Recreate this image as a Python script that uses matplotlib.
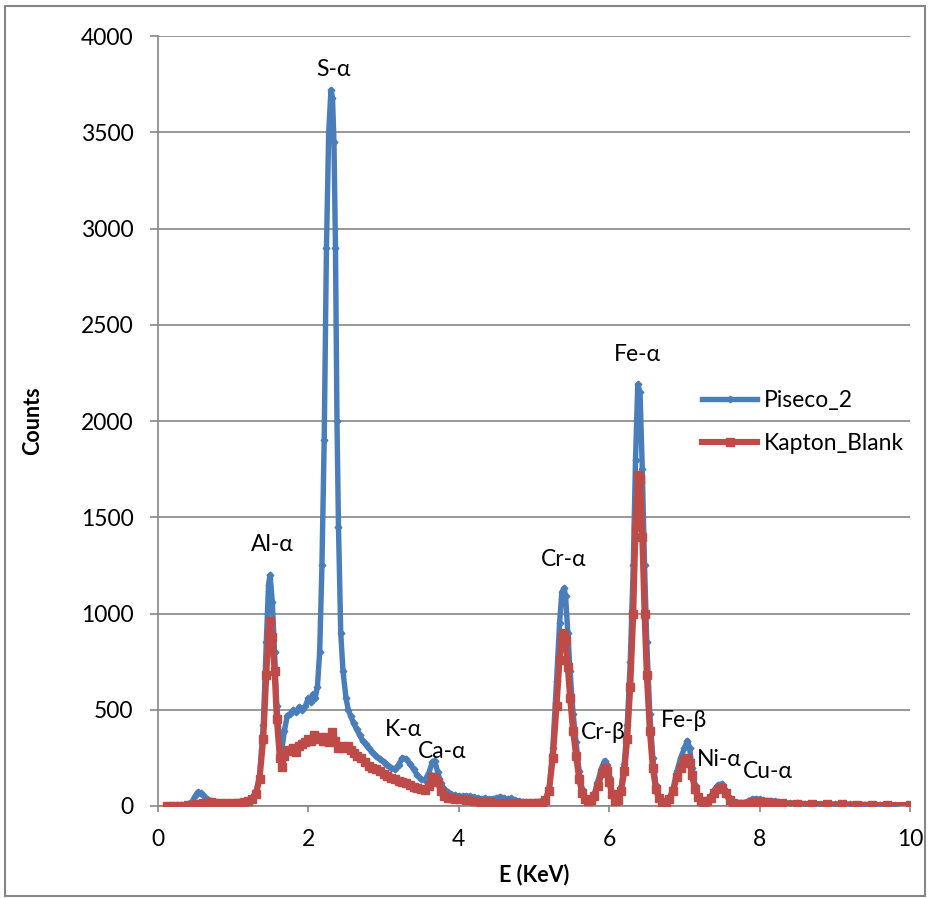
import matplotlib
matplotlib.use("Agg")
import matplotlib.pyplot as plt
from matplotlib.patches import Rectangle

# ---- spectrum data: energy (keV) and counts ----
piseco_e = [0.12, 0.20, 0.25, 0.30, 0.35, 0.40, 0.45, 0.50, 0.53, 0.57, 0.60, 0.65, 0.70,
            0.75, 0.80, 0.85, 0.90, 0.95, 1.00, 1.05, 1.10, 1.15, 1.20, 1.25, 1.30, 1.35,
            1.40, 1.44, 1.47, 1.49, 1.52, 1.55, 1.58, 1.62, 1.65, 1.68, 1.72, 1.76, 1.80,
            1.84, 1.88, 1.92, 1.96, 2.00, 2.03, 2.06, 2.09, 2.12, 2.15, 2.18, 2.21, 2.24,
            2.27, 2.30, 2.32, 2.34, 2.36, 2.38, 2.40, 2.43, 2.46, 2.50, 2.53, 2.56, 2.60,
            2.64, 2.68, 2.72, 2.76, 2.80, 2.85, 2.90, 2.95, 3.00, 3.05, 3.10, 3.15, 3.20,
            3.25, 3.30, 3.35, 3.40, 3.45, 3.50, 3.55, 3.60, 3.65, 3.68, 3.72, 3.76, 3.80,
            3.85, 3.90, 3.95, 4.00, 4.05, 4.10, 4.15, 4.20, 4.25, 4.30, 4.35, 4.40, 4.45,
            4.50, 4.55, 4.60, 4.65, 4.70, 4.75, 4.80, 4.85, 4.90, 4.95, 5.00, 5.05, 5.10,
            5.15, 5.20, 5.25, 5.30, 5.34, 5.37, 5.40, 5.42, 5.45, 5.48, 5.52, 5.56, 5.60,
            5.64, 5.68, 5.72, 5.76, 5.80, 5.85, 5.90, 5.94, 5.97, 6.00, 6.04, 6.08, 6.12,
            6.16, 6.20, 6.24, 6.28, 6.32, 6.35, 6.38, 6.41, 6.44, 6.47, 6.50, 6.54, 6.58,
            6.62, 6.66, 6.70, 6.75, 6.80, 6.85, 6.90, 6.95, 7.00, 7.04, 7.07, 7.10, 7.14,
            7.18, 7.22, 7.26, 7.30, 7.35, 7.40, 7.45, 7.50, 7.55, 7.60, 7.65, 7.70, 7.75,
            7.80, 7.85, 7.90, 7.95, 8.00, 8.05, 8.10, 8.15, 8.20, 8.25, 8.30, 8.40, 8.50,
            8.60, 8.70, 8.80, 8.90, 9.00, 9.20, 9.40, 9.60, 9.80, 10.00]
piseco_c = [2, 3, 3, 4, 5, 8, 20, 55, 72, 65, 55, 38, 28,
            22, 18, 17, 16, 15, 14, 15, 17, 22, 30, 45, 70, 150,
            420, 850, 1150, 1200, 1060, 800, 520, 340, 300, 390, 470, 480, 500,
            490, 515, 500, 520, 560, 540, 580, 560, 620, 800, 1250, 1900, 2900,
            3500, 3720, 3680, 3450, 2900, 2000, 1450, 900, 700, 560, 500, 470, 430,
            400, 370, 340, 320, 300, 280, 260, 245, 230, 215, 200, 190, 215,
            250, 245, 220, 190, 160, 138, 135, 170, 230, 235, 175, 120, 90,
            72, 60, 55, 52, 50, 52, 50, 45, 40, 38, 40, 35, 38,
            40, 48, 42, 35, 40, 30, 25, 22, 22, 20, 22, 22, 25,
            35, 80, 300, 650, 950, 1110, 1130, 1090, 900, 700, 480, 330, 180,
            90, 45, 30, 35, 60, 130, 200, 235, 215, 150, 70, 35, 40,
            100, 220, 420, 750, 1250, 1800, 2190, 2150, 1750, 1250, 850, 480, 250,
            110, 50, 25, 20, 40, 90, 180, 250, 300, 340, 300, 200, 110,
            55, 30, 25, 30, 50, 85, 110, 115, 80, 40, 20, 15, 15,
            18, 25, 35, 38, 35, 30, 28, 28, 25, 20, 18, 15, 13,
            12, 11, 10, 9, 8, 8, 7, 6, 5, 5]

kapton_e = [0.12, 0.20, 0.30, 0.40, 0.45, 0.50, 0.55, 0.60, 0.65, 0.70, 0.75, 0.80, 0.90,
            1.00, 1.05, 1.10, 1.15, 1.20, 1.25, 1.30, 1.35, 1.40, 1.44, 1.47, 1.49, 1.52,
            1.55, 1.58, 1.62, 1.65, 1.68, 1.72, 1.76, 1.80, 1.84, 1.88, 1.92, 1.96, 2.00,
            2.04, 2.08, 2.12, 2.16, 2.20, 2.24, 2.28, 2.32, 2.36, 2.40, 2.44, 2.48, 2.52,
            2.56, 2.60, 2.65, 2.70, 2.75, 2.80, 2.85, 2.90, 2.95, 3.00, 3.05, 3.10, 3.15,
            3.20, 3.25, 3.30, 3.35, 3.40, 3.45, 3.50, 3.55, 3.60, 3.65, 3.68, 3.72, 3.76,
            3.80, 3.85, 3.90, 3.95, 4.00, 4.10, 4.20, 4.30, 4.40, 4.50, 4.60, 4.70, 4.80,
            4.90, 5.00, 5.05, 5.10, 5.15, 5.20, 5.25, 5.30, 5.34, 5.37, 5.40, 5.42, 5.45,
            5.48, 5.52, 5.56, 5.60, 5.64, 5.68, 5.72, 5.76, 5.80, 5.85, 5.90, 5.94, 5.97,
            6.00, 6.04, 6.08, 6.12, 6.16, 6.20, 6.24, 6.28, 6.32, 6.35, 6.38, 6.41, 6.44,
            6.47, 6.50, 6.54, 6.58, 6.62, 6.66, 6.70, 6.75, 6.80, 6.85, 6.90, 6.95, 7.00,
            7.04, 7.07, 7.10, 7.14, 7.18, 7.22, 7.26, 7.30, 7.35, 7.40, 7.45, 7.50, 7.55,
            7.60, 7.65, 7.70, 7.75, 7.80, 7.90, 7.95, 8.00, 8.10, 8.20, 8.30, 8.50, 8.70,
            8.90, 9.10, 9.30, 9.50, 9.70, 10.00]
kapton_c = [2, 2, 2, 3, 5, 8, 12, 16, 18, 19, 18, 17, 15,
            14, 15, 18, 20, 25, 35, 60, 140, 350, 680, 900, 960, 880,
            700, 450, 250, 205, 260, 290, 285, 300, 280, 310, 320, 330, 350,
            340, 370, 350, 360, 340, 360, 330, 385, 340, 300, 310, 300, 310,
            290, 275, 260, 250, 230, 210, 200, 190, 180, 165, 155, 148, 140,
            130, 125, 118, 110, 100, 95, 88, 85, 105, 150, 145, 125, 80,
            50, 42, 40, 38, 35, 30, 25, 22, 20, 18, 17, 18, 15,
            14, 14, 15, 18, 30, 80, 250, 520, 760, 880, 900, 860, 720,
            560, 390, 260, 140, 70, 35, 25, 30, 50, 105, 170, 195, 180,
            125, 60, 25, 30, 80, 180, 350, 620, 1000, 1450, 1720, 1700, 1400,
            1000, 680, 390, 200, 90, 40, 20, 15, 35, 80, 150, 200, 240,
            250, 225, 160, 90, 45, 25, 20, 25, 40, 70, 90, 95, 65,
            30, 15, 10, 10, 12, 20, 22, 22, 20, 17, 15, 12, 10,
            9, 8, 7, 6, 5, 5]

peak_labels = ["S-\u03b1", "Al-\u03b1", "K-\u03b1", "Ca-\u03b1", "Cr-\u03b1", "Cr-\u03b2",
               "Fe-\u03b1", "Fe-\u03b2", "Ni-\u03b1", "Cu-\u03b1"]
label_e = [2.33, 1.52, 3.27, 3.78, 5.39, 5.92, 6.37, 7.00, 7.47, 8.11]
label_c = [3825, 1356, 395, 281, 1278, 384, 2348, 442, 239, 177]

series_names = ["Piseco_2", "Kapton_Blank"]
x_ticks = [0, 2, 4, 6, 8, 10]
y_ticks = [0, 500, 1000, 1500, 2000, 2500, 3000, 3500, 4000]

FONT = ["Lato", "DejaVu Sans"]
plt.rcParams["font.family"] = FONT
GRAY = "#868686"
BLUE = "#4A7EBB"
RED = "#BE4B48"

W, H = 930, 898
fig = plt.figure(figsize=(W / 100, H / 100), dpi=100)
ax = fig.add_axes([158 / W, 1 - 806 / H, (910 - 158) / W, (806 - 36) / H])

ax.plot(piseco_e, piseco_c, color=BLUE, lw=3.9, marker="D", ms=3.4,
        markerfacecolor=BLUE, markeredgecolor=BLUE, label=series_names[0],
        solid_joinstyle="round", zorder=3)
ax.plot(kapton_e, kapton_c, color=RED, lw=4.4, marker="s", ms=5.2,
        markerfacecolor=RED, markeredgecolor=RED, label=series_names[1],
        solid_joinstyle="round", zorder=4)

for txt, e, c in zip(peak_labels, label_e, label_c):
    ax.text(e, c, txt, ha="center", va="center", fontsize=16.5, color="black", zorder=5)

ax.set_xlim(0, 10)
ax.set_ylim(0, 4000)
ax.set_xticks(x_ticks)
ax.set_yticks(y_ticks)
ax.set_xticklabels([str(v) for v in x_ticks])
ax.set_yticklabels([str(v) for v in y_ticks])

ax.grid(axis="y", color=GRAY, lw=1.2, zorder=0)
ax.set_axisbelow(True)
for s in ["top", "right"]:
    ax.spines[s].set_visible(False)
for s in ["left", "bottom"]:
    ax.spines[s].set_color(GRAY)
    ax.spines[s].set_linewidth(1.2)
ax.tick_params(axis="y", direction="out", length=5.5, width=1.2, color=GRAY,
               labelsize=16.5, pad=12)
ax.tick_params(axis="x", direction="out", length=4.5, width=1.2, color=GRAY,
               labelsize=16.5, pad=12)

ax.set_xlabel("E (KeV)", fontsize=15.5, fontweight="bold", labelpad=10)
ax.set_ylabel("Counts", fontsize=15.5, fontweight="bold", labelpad=27)

leg = ax.legend(loc="center left", bbox_to_anchor=(702 / W, 1 - 422 / H),
                bbox_transform=fig.transFigure, frameon=False, fontsize=16.5,
                handlelength=2.4, handletextpad=0.3, labelspacing=1.0,
                borderpad=0, borderaxespad=0)

# outer chart border
fig.patches.append(Rectangle((5 / W, 2 / H), (925 - 5) / W, (892 - 2) / H,
                             transform=fig.transFigure, fill=False,
                             edgecolor=GRAY, lw=1.5))

fig.savefig("out.png", dpi=100)
